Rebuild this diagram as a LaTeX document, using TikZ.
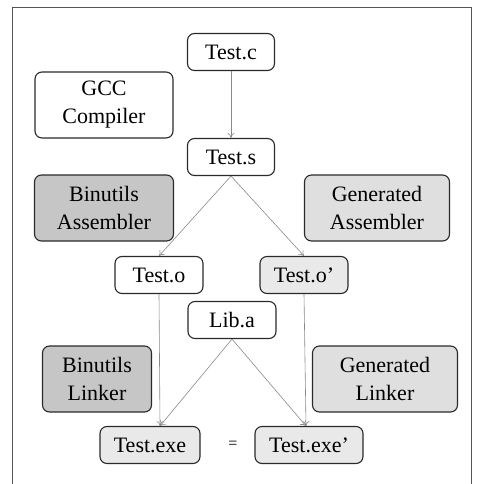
\documentclass[tikz,border=0pt]{standalone}
\usepackage{fontspec}
\setmainfont{Liberation Serif}
\usetikzlibrary{arrows.meta}
\definecolor{frame}{HTML}{555555}
\definecolor{edge}{HTML}{2a2a2a}
\definecolor{flow}{HTML}{8a8a8a}
\definecolor{binfill}{HTML}{c6c6c6}
\definecolor{genfill}{HTML}{dfdfdf}
\definecolor{outfill}{HTML}{e9e9e9}

\tikzset{
  filebox/.style={draw=edge, line width=1.1pt, rounded corners=7pt, fill=white,
    minimum height=37pt, inner sep=0pt},
  toolbox/.style={filebox, minimum height=66pt, align=center,
    font=\fontsize{22}{28}\selectfont},
  flowline/.style={draw=flow, line width=0.6pt, -{To[length=5pt,width=7pt]}}
}

\begin{document}
\begin{tikzpicture}[x=1pt, y=-1pt, font=\fontsize{22}{28}\selectfont]
\useasboundingbox (0,0) rectangle (478,484);
\draw[frame, line width=0.8pt] (12,484) -- (12,7) -- (471,7) -- (471,484);
% source files
\node[filebox, minimum width=87pt] (testc) at (231,52) {Test.c};
\node[filebox, minimum width=87pt] (tests) at (231,157) {Test.s};
% tools
\node[toolbox, minimum width=138pt] (gcc) at (104,105) {GCC\\Compiler};
\node[toolbox, minimum width=139pt, fill=binfill] (binas) at (104,208) {Binutils\\Assembler};
\node[toolbox, minimum width=145pt, fill=genfill] (genas) at (377,208) {Generated\\Assembler};
\node[toolbox, minimum width=109pt, fill=binfill] (binld) at (97,379) {Binutils\\Linker};
\node[toolbox, minimum width=145pt, fill=genfill] (genld) at (385,379) {Generated\\Linker};
% objects
\node[filebox, minimum width=88pt] (testo) at (159,275) {Test.o};
\node[filebox, minimum width=88pt, fill=outfill] (testop) at (304,275) {Test.o'};
\node[filebox, minimum width=88pt] (liba) at (232,320) {Lib.a};
% executables
\node[filebox, minimum width=100pt, fill=outfill] (exe) at (150,445) {Test.exe};
\node[filebox, minimum width=108pt, fill=outfill] (exep) at (309,445) {Test.exe'};
\node (eq) at (233,445) {\fontsize{16}{18}\selectfont =};
\coordinate (exein) at (160,426);
\coordinate (exepin) at (306,426);

\draw[flowline] (testc) -- (tests);
\draw[flowline] (tests.south) -- (testo.north);
\draw[flowline] (tests.south) -- (testop.north);
\draw[flowline] (testo.south) -- (exein);
\draw[flowline] (testop.south) -- (exepin);
\draw[flowline] (liba.south) -- (exein);
\draw[flowline] (liba.south) -- (exepin);
\end{tikzpicture}
\end{document}
